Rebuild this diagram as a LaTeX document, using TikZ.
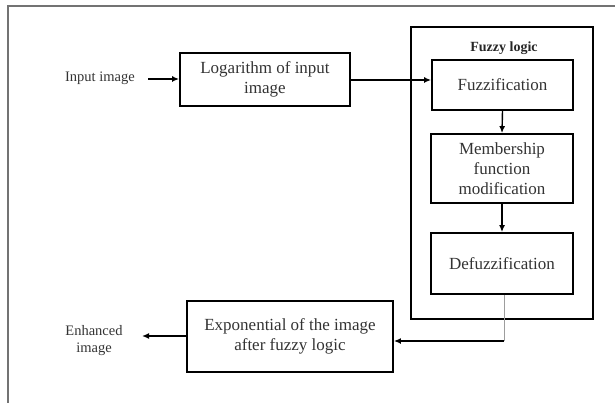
\documentclass[tikz,border=0pt]{standalone}
\usepackage{fontspec}
\setmainfont{Liberation Serif}
\usetikzlibrary{arrows.meta}
\definecolor{txt}{gray}{0.2}
\definecolor{frame}{gray}{0.45}
\begin{document}
\begin{tikzpicture}[x=1pt,y=-1pt,
  blk/.style={draw=black,line width=1.8pt,rectangle,align=center,inner sep=0pt,
    text=txt,font=\fontsize{17}{20}\selectfont},
  lbl/.style={align=center,inner sep=0pt,text=txt,font=\fontsize{14.5}{17}\selectfont},
  arr/.style={line width=1.4pt,-{Latex[length=7pt,width=6pt]}}]
\useasboundingbox (0,0) rectangle (615,403);
% page frame (only top and left edges visible)
\draw[frame,line width=1.5pt] (615,6) -- (8,6) -- (8,403);

% fuzzy logic block
\node[draw=black,line width=1.8pt,rectangle,minimum width=182pt,minimum height=292pt,inner sep=0pt]
  (fl) at (502,173) {};
\node[inner sep=0pt,font=\bfseries\fontsize{14}{16}\selectfont,text=black!85] (fltitle) at (504,48) {Fuzzy logic};

\node[blk,minimum width=141pt,minimum height=50pt] (fuzz) at (502.5,85) {Fuzzification};
\node[blk,minimum width=142pt,minimum height=69pt] (memb) at (502,168.5) {Membership\\function\\modification};
\node[blk,minimum width=142pt,minimum height=61pt] (defuzz) at (502,263.5) {Defuzzification};

% main chain
\node[blk,minimum width=170pt,minimum height=53pt] (log) at (265,79.5) {Logarithm of input\\image};
\node[blk,minimum width=206pt,minimum height=71pt] (exp) at (290,336.5) {Exponential of the image\\after fuzzy logic};

\node[lbl] (in) at (100,78) {Input image};
\node[lbl] (out) at (94,341) {Enhanced\\image};

\coordinate (inA) at (148,79);
\coordinate (outA) at (142,336);
\coordinate (bend) at (504,341);

% connectors
\draw[arr] (inA) -- (log.west |- inA);
\draw[arr] (log.east |- 0,80) -- (fuzz.west |- 0,80);
\draw[arr] (fuzz.south) -- (memb.north);
\draw[arr] (memb.south) -- (defuzz.north);
\draw[frame!70,line width=1pt] (defuzz.south -| bend) -- (bend);
\draw[arr] (bend) -- (exp.east |- bend);
\draw[arr] (exp.west |- outA) -- (outA);
\end{tikzpicture}
\end{document}
